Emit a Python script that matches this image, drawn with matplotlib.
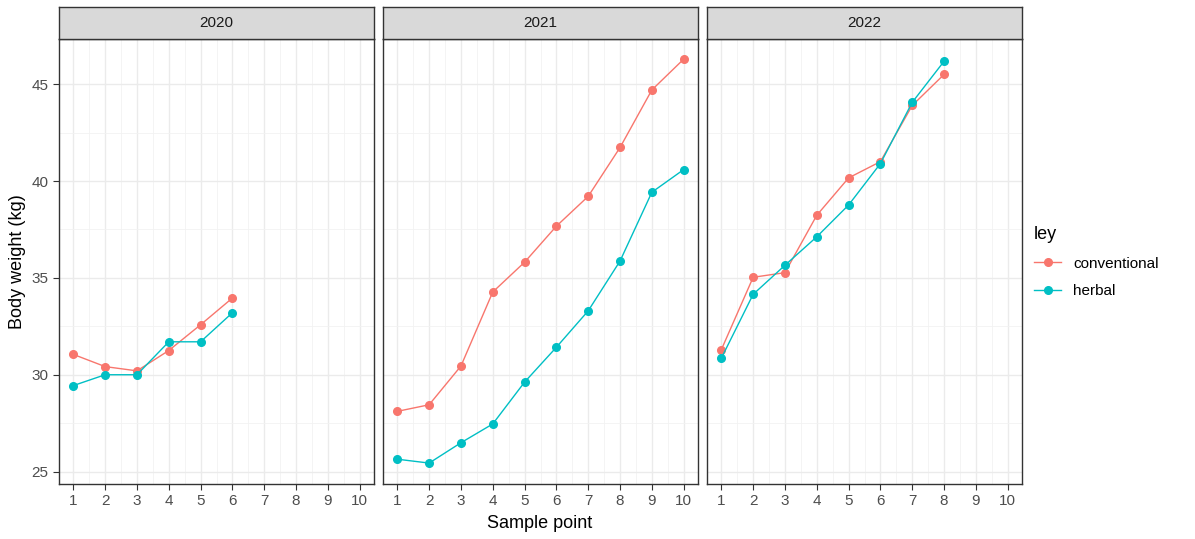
import matplotlib.pyplot as plt
from matplotlib.lines import Line2D

plt.rcParams['font.family'] = ['Liberation Sans', 'DejaVu Sans']

# Datos
years = ["2020", "2021", "2022"]
sample_points = {
    "2020": [1, 2, 3, 4, 5, 6],
    "2021": [1, 2, 3, 4, 5, 6, 7, 8, 9, 10],
    "2022": [1, 2, 3, 4, 5, 6, 7, 8],
}
conventional = {
    "2020": [31.05, 30.42, 30.2, 31.25, 32.58, 33.96],
    "2021": [28.11, 28.45, 30.45, 34.27, 35.81, 37.67, 39.21, 41.73, 44.7, 46.29],
    "2022": [31.29, 35.03, 35.27, 38.23, 40.16, 41.0, 43.9, 45.5],
}
herbal = {
    "2020": [29.44, 30.0, 30.0, 31.7, 31.7, 33.2],
    "2021": [25.64, 25.44, 26.49, 27.46, 29.62, 31.42, 33.3, 35.87, 39.42, 40.59],
    "2022": [30.85, 34.15, 35.65, 37.12, 38.76, 40.9, 44.06, 46.18],
}
x_ticks = list(range(1, 11))
y_ticks = [25, 30, 35, 40, 45]

col_conv = "#F8766D"
col_herb = "#00BFC4"

W, H = 1195, 539
fig = plt.figure(figsize=(W / 100, H / 100), dpi=100)

panel_left = [59, 383, 707]
panel_w = 315
top_strip = 7
strip_h = 32
panel_bottom = 484

ax0 = None
for i, yr in enumerate(years):
    l = panel_left[i]
    t = top_strip + strip_h
    ax = fig.add_axes([l / W, 1 - panel_bottom / H, panel_w / W, (panel_bottom - t) / H],
                      sharey=ax0)
    if ax0 is None:
        ax0 = ax
    # Gridlines (mayores y menores, estilo theme_bw)
    for v in [x + 0.5 for x in range(0, 11)]:
        ax.axvline(v, color="#f2f2f2", lw=0.6, zorder=0)
    for v in x_ticks:
        ax.axvline(v, color="#ebebeb", lw=1.0, zorder=0)
    for v in [22.5, 27.5, 32.5, 37.5, 42.5, 47.5]:
        ax.axhline(v, color="#f2f2f2", lw=0.6, zorder=0)
    for v in y_ticks:
        ax.axhline(v, color="#ebebeb", lw=1.0, zorder=0)

    ax.plot(sample_points[yr], conventional[yr], color=col_conv, lw=1.0,
            marker="o", ms=5.5, mec=col_conv, zorder=3)
    ax.plot(sample_points[yr], herbal[yr], color=col_herb, lw=1.0,
            marker="o", ms=5.5, mec=col_herb, zorder=3)

    ax.set_xlim(0.55, 10.45)
    ax.set_ylim(24.36, 47.33)
    ax.set_xticks(x_ticks)
    ax.set_yticks(y_ticks)
    ax.tick_params(colors="#333333", labelcolor="#4d4d4d", labelsize=11,
                   length=4, width=0.8)
    if i > 0:
        ax.tick_params(labelleft=False, left=False)
    for s in ax.spines.values():
        s.set_color("#333333")
        s.set_linewidth(1.0)

    # Strip
    sax = fig.add_axes([l / W, 1 - t / H, panel_w / W, strip_h / H])
    sax.set_facecolor("#d9d9d9")
    sax.set_xticks([])
    sax.set_yticks([])
    for s in sax.spines.values():
        s.set_color("#333333")
        s.set_linewidth(1.0)
    sax.text(0.5, 0.5, yr, ha="center", va="center", fontsize=11,
             color="#1a1a1a", transform=sax.transAxes)

fig.text(540 / W, 1 - 524 / H, "Sample point", ha="center", va="center", fontsize=13)
fig.text(18 / W, 1 - 262 / H, "Body weight (kg)", ha="center", va="center",
         rotation=90, fontsize=13)

handles = [
    Line2D([], [], color=col_conv, lw=1.0, marker="o", ms=5.5),
    Line2D([], [], color=col_herb, lw=1.0, marker="o", ms=5.5),
]
leg = fig.legend(handles, ["conventional", "herbal"], title="ley",
                 loc="upper left", bbox_to_anchor=(1020 / W, 1 - 212 / H),
                 frameon=False, fontsize=11, title_fontsize=13,
                 handlelength=1.8, labelspacing=0.9)
leg._legend_box.align = "left"

fig.savefig("out.png", dpi=100)
